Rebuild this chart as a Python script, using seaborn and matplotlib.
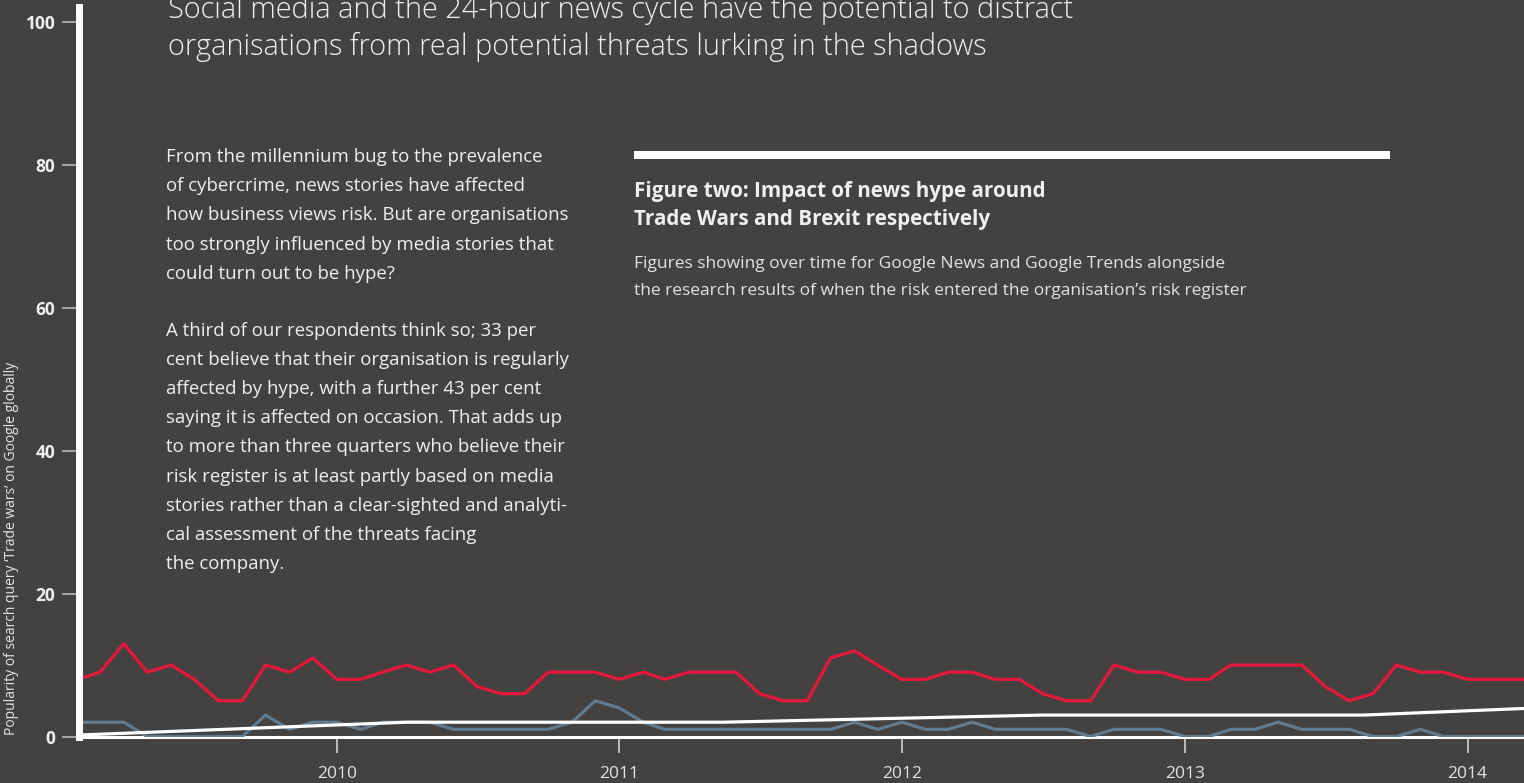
import pandas as pd
import matplotlib
matplotlib.use("Agg")
import matplotlib.pyplot as plt
import matplotlib.dates as mdates
from matplotlib.patches import Rectangle
import seaborn as sns

# Monthly series, Feb 2009 - Apr 2014
months = pd.date_range("2009-02-01", "2014-04-01", freq="MS")
google_news = [
    8, 9, 13, 9, 10, 8, 5, 5, 10, 9, 11,
    8, 8, 9, 10, 9, 10, 7, 6, 6, 9, 9, 9,
    8, 9, 8, 9, 9, 9, 6, 5, 5, 11, 12, 10,
    8, 8, 9, 9, 8, 8, 6, 5, 5, 10, 9, 9,
    8, 8, 10, 10, 10, 10, 7, 5, 6, 10, 9, 9,
    8, 8, 8, 8,
]
google_trends = [
    2, 2, 2, 0, 0, 0, 0, 0, 3, 1, 2,
    2, 1, 2, 2, 2, 1, 1, 1, 1, 1, 2, 5,
    4, 2, 1, 1, 1, 1, 1, 1, 1, 1, 2, 1,
    2, 1, 1, 2, 1, 1, 1, 1, 0, 1, 1, 1,
    0, 0, 1, 1, 2, 1, 1, 1, 0, 0, 1, 0,
    0, 0, 0, 0,
]
# Share of organisations with the risk on their register
register_dates = pd.to_datetime([
    "2009-02-01", "2010-04-01", "2011-05-15", "2012-07-01", "2013-08-20", "2014-04-01",
])
register_values = [0.2, 2.0, 2.0, 3.0, 3.0, 4.0]

year_ticks = pd.to_datetime(["2010-01-01", "2011-01-01", "2012-01-01", "2013-01-01", "2014-01-01"])
y_ticks = [0, 20, 40, 60, 80, 100]

title_lines = [
    "Social media and the 24-hour news cycle have the potential to distract",
    "organisations from real potential threats lurking in the shadows",
]
para_one = [
    "From the millennium bug to the prevalence",
    "of cybercrime, news stories have affected",
    "how business views risk. But are organisations",
    "too strongly influenced by media stories that",
    "could turn out to be hype?",
]
para_two = [
    "A third of our respondents think so; 33 per",
    "cent believe that their organisation is regularly",
    "affected by hype, with a further 43 per cent",
    "saying it is affected on occasion. That adds up",
    "to more than three quarters who believe their",
    "risk register is at least partly based on media",
    "stories rather than a clear-sighted and analyti-",
    "cal assessment of the threats facing",
    "the company.",
]
fig_heading = [
    "Figure two: Impact of news hype around",
    "Trade Wars and Brexit respectively",
]
fig_caption = [
    "Figures showing over time for Google News and Google Trends alongside",
    "the research results of when the risk entered the organisation\u2019s risk register",
]
y_label = "Popularity of search query \u2018Trade wars\u2019 on Google globally"

BG = "#434241"
RED = "#e5173c"
SLATE = "#607a90"
TEXT = "#efefef"

sns.set_style("dark", {"axes.facecolor": BG, "figure.facecolor": BG})
plt.rcParams["font.family"] = ["Open Sans", "DejaVu Sans"]

W, H = 1524, 783
fig = plt.figure(figsize=(W / 100, H / 100), dpi=100)
fig.patch.set_facecolor(BG)
ax = fig.add_axes([79 / W, (H - 736.5) / H, (W - 79) / W, (736.5 - 7) / H])
ax.set_facecolor(BG)

series = pd.DataFrame({"month": months, "news": google_news, "trends": google_trends})
register = pd.DataFrame({"date": register_dates, "share": register_values})

sns.lineplot(data=series, x="month", y="trends", ax=ax, color=SLATE, lw=2.3, zorder=3)
sns.lineplot(data=register, x="date", y="share", ax=ax, color="white", lw=2.3, zorder=4)
sns.lineplot(data=series, x="month", y="news", ax=ax, color=RED, lw=2.3, zorder=5)

ax.set_ylim(0, (736.5 - 7) / 7.145)
left = pd.Timestamp("2010-01-01") - pd.Timedelta(days=333)
ax.set_xlim(left, left + pd.Timedelta(days=1867))

ax.grid(False)
for side in ("top", "right"):
    ax.spines[side].set_visible(False)
ax.spines["left"].set_color("white")
ax.spines["left"].set_linewidth(5)
ax.spines["left"].set_zorder(6)
ax.spines["bottom"].set_color("white")
ax.spines["bottom"].set_linewidth(2.2)
ax.spines["bottom"].set_zorder(1)

ax.set_yticks(y_ticks)
ax.set_yticklabels([str(v) for v in y_ticks], fontweight="bold")
ax.set_xticks(year_ticks)
ax.xaxis.set_major_formatter(mdates.DateFormatter("%Y"))
ax.tick_params(axis="y", left=True, length=12, width=1.2, color="#b8b8b8", pad=5,
               labelsize=12.5, labelcolor=TEXT)
ax.tick_params(axis="x", bottom=True, length=11.5, width=1.2, color="#d0d0d0", pad=10,
               labelsize=12.5, labelcolor="#e2e2e2")
ax.set_xlabel("")
ax.set_ylabel(y_label, fontsize=10, color="#e6e6e6")
ax.yaxis.set_label_coords((19 - 79) / (W - 79), (736.5 - 548) / (736.5 - 7))


def px(x, y):
    return x / W, 1 - y / H


# Headline, running off the top edge of the page
for i, line in enumerate(title_lines):
    fig.text(*px(168, 18 + 37 * i), line, fontsize=20.8, fontweight="light",
             color=TEXT, va="baseline", ha="left")

# Body copy
for i, line in enumerate(para_one):
    fig.text(*px(166, 162 + 29.2 * i), line, fontsize=13.4, color=TEXT, va="baseline")
for i, line in enumerate(para_two):
    fig.text(*px(166, 335.5 + 29.2 * i), line, fontsize=13.4, color=TEXT, va="baseline")

# Figure caption block
fig.patches.append(Rectangle(px(634, 159), (1390 - 634) / W, 8 / H,
                             transform=fig.transFigure, facecolor="white",
                             edgecolor="none", figure=fig))
for i, line in enumerate(fig_heading):
    fig.text(*px(634, 196.5 + 29 * i), line, fontsize=14.9, fontweight="bold",
             color=TEXT, va="baseline")
for i, line in enumerate(fig_caption):
    fig.text(*px(634, 268.5 + 26.5 * i), line, fontsize=12.5, color="#e2e2e2",
             va="baseline")

fig.savefig("out.png", dpi=100, facecolor=BG)
